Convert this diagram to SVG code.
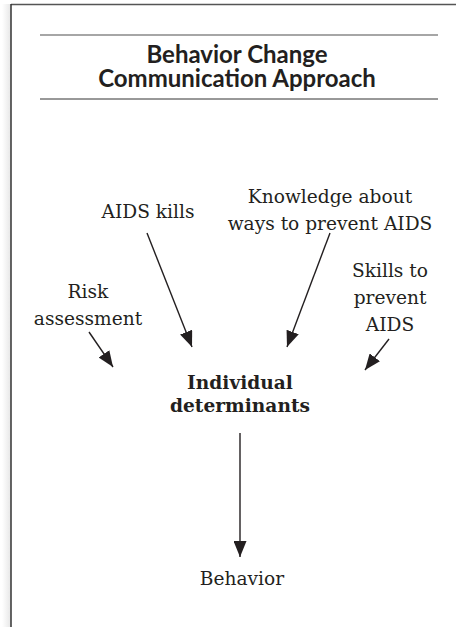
<svg xmlns="http://www.w3.org/2000/svg" width="456" height="627" viewBox="0 0 456 627">
  <style>
    .serif { font-family: "DejaVu Serif", "Liberation Serif", serif; font-size: 18.6px; fill: #231f20; text-anchor: middle; }
    .bold { font-weight: bold; }
    .title { font-family: "Lato", "Liberation Sans", sans-serif; font-weight: bold; font-size: 24px; fill: #231f20; text-anchor: middle; }
    .conn { stroke: #231f20; stroke-width: 1.4; fill: none; marker-end: url(#ah); }
  </style>
  <defs>
    <marker id="ah" viewBox="0 0 16 13" refX="16" refY="6.5" markerWidth="16" markerHeight="13" markerUnits="userSpaceOnUse" orient="auto">
      <path d="M0,0 L16,6.5 L0,13 Z" fill="#231f20"/>
    </marker>
    <linearGradient id="sh" x1="0" x2="1" y1="0" y2="0">
      <stop offset="0" stop-color="#ffffff"/>
      <stop offset="1" stop-color="#e6e6e6"/>
    </linearGradient>
  </defs>
  <rect width="456" height="627" fill="#ffffff"/>
  <g id="frame">
    <rect x="2" y="4" width="9" height="623" fill="url(#sh)"/>
    <line x1="11" y1="4.5" x2="456" y2="4.5" stroke="#555" stroke-width="1.5"/>
    <line x1="11" y1="4" x2="11" y2="627" stroke="#333" stroke-width="1.5"/>
  </g>
  <g id="title">
    <line x1="40" y1="35" x2="438" y2="35" stroke="#888" stroke-width="1.6"/>
    <text class="title" x="237" y="63">Behavior Change</text>
    <text class="title" x="237" y="87">Communication Approach</text>
    <line x1="40" y1="99" x2="438" y2="99" stroke="#333" stroke-width="1"/>
  </g>
  <g id="aids-kills">
    <text class="serif" x="148" y="218">AIDS kills</text>
  </g>
  <g id="knowledge">
    <text class="serif" x="330" y="203">Knowledge about</text>
    <text class="serif" x="330" y="230">ways to prevent AIDS</text>
  </g>
  <g id="risk">
    <text class="serif" x="88" y="298">Risk</text>
    <text class="serif" x="88" y="325">assessment</text>
  </g>
  <g id="skills">
    <text class="serif" x="390" y="277">Skills to</text>
    <text class="serif" x="390" y="304">prevent</text>
    <text class="serif" x="390" y="331">AIDS</text>
  </g>
  <g id="individual">
    <text class="serif bold" x="240" y="389">Individual</text>
    <text class="serif bold" x="240" y="412">determinants</text>
  </g>
  <g id="behavior">
    <text class="serif" x="242" y="585">Behavior</text>
  </g>
  <g id="connectors">
    <line class="conn" x1="147" y1="233" x2="192" y2="347"/>
    <line class="conn" x1="330" y1="233" x2="287" y2="347"/>
    <line class="conn" x1="89" y1="332" x2="113" y2="367"/>
    <line class="conn" x1="389" y1="339" x2="365" y2="370"/>
    <line class="conn" x1="240" y1="433" x2="240" y2="557"/>
  </g>
</svg>
